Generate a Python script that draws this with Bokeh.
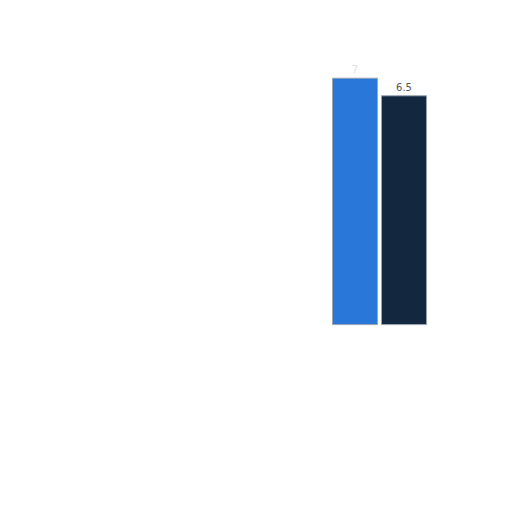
from bokeh.plotting import figure
from bokeh.models import ColumnDataSource, Range1d
from bokeh.embed import file_html
from bokeh.resources import INLINE
from bokeh.core.properties import value

categories = ["A", "B"]
values = [7.0, 6.5]
labels = ["7", "6.5"]
colors = ["#2a77da", "#13283f"]
label_colors = ["#e0e0e0", "#555555"]

xs = list(range(len(categories)))
src = ColumnDataSource(dict(x=xs, top=values, color=colors, label=labels, lc=label_colors))

p = figure(width=496, height=496, output_backend="svg", toolbar_location=None,
           x_range=Range1d(-7.233, 2.887), y_range=Range1d(-4.883, 9.207),
           min_border=0, min_border_left=0, min_border_right=0,
           min_border_top=0, min_border_bottom=0)
p.axis.visible = False
p.grid.visible = False
p.outline_line_color = None
p.background_fill_color = "white"
p.border_fill_color = "white"

p.vbar(x="x", top="top", bottom=0, width=0.92, fill_color="color",
       line_color="#9aa5b1", line_width=1, source=src)
p.text(x="x", y="top", text="label", text_color="lc", text_font=value("DejaVu Sans"),
       text_font_size="10px", text_align="center", text_baseline="bottom",
       y_offset=-5, source=src)

open("out.html", "w").write(file_html(p, INLINE))
